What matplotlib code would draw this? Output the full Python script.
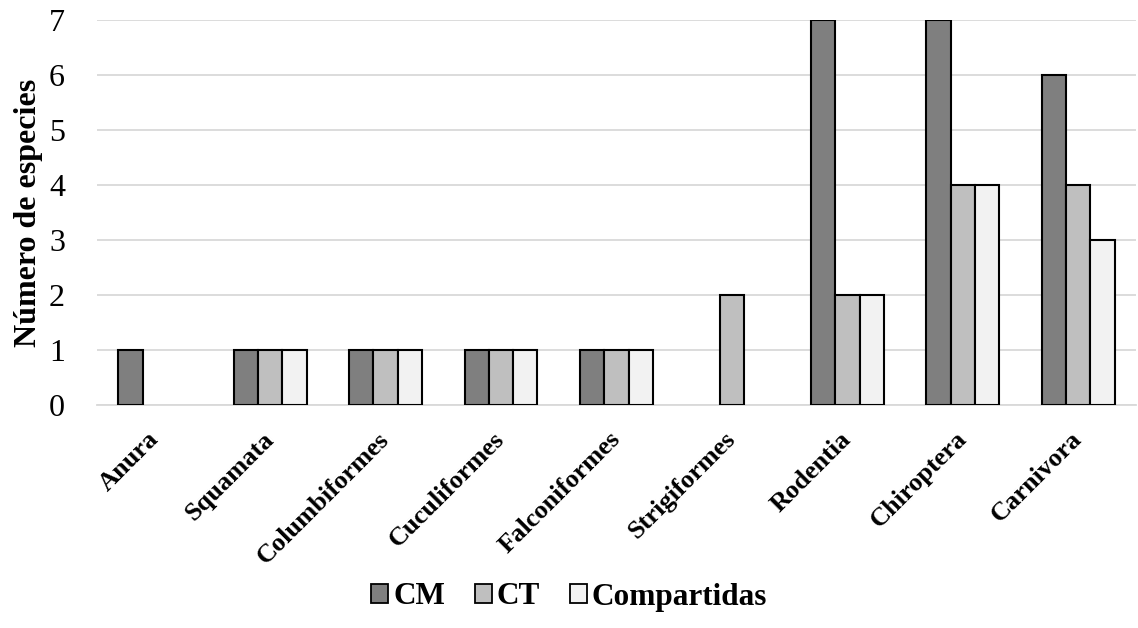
import matplotlib
matplotlib.use("Agg")
import matplotlib.pyplot as plt
from matplotlib.patches import Patch
import numpy as np

categories = ["Anura", "Squamata", "Columbiformes", "Cuculiformes", "Falconiformes",
              "Strigiformes", "Rodentia", "Chiroptera", "Carnivora"]
cm = [1, 1, 1, 1, 1, 0, 7, 7, 6]
ct = [0, 1, 1, 1, 1, 2, 2, 4, 4]
compartidas = [0, 1, 1, 1, 1, 0, 2, 4, 3]
series = [("CM", cm, "#7f7f7f"), ("CT", ct, "#bfbfbf"), ("Compartidas", compartidas, "#f2f2f2")]

plt.rcParams['font.family'] = ['Liberation Serif', 'DejaVu Serif']

fig = plt.figure(figsize=(11.38, 6.28), dpi=100)
ax = fig.add_axes([97/1138, 1 - 405/628, (1136-97)/1138, (405-20)/628])

x = np.arange(len(categories))
w = 0.21
handles = []
for i, (name, vals, col) in enumerate(series):
    vals = np.array(vals, dtype=float)
    pos = x + (i - 1) * w
    mask = vals > 0
    ax.bar(pos[mask], vals[mask], width=w, color=col, edgecolor="black", linewidth=1.5, zorder=3)
    handles.append(Patch(facecolor=col, edgecolor="black", linewidth=1.3, label=name))

ax.set_xlim(-0.5, len(categories) - 0.5)
ax.set_ylim(0, 7)
ax.set_yticks(range(8))
ax.yaxis.grid(True, color="#d9d9d9", linewidth=1.3, zorder=0)
ax.set_axisbelow(True)
for s in ["top", "right", "left"]:
    ax.spines[s].set_visible(False)
ax.spines["bottom"].set_color("#d9d9d9")
ax.spines["bottom"].set_linewidth(1.3)
ax.tick_params(axis="both", length=0)
ax.tick_params(axis="y", labelsize=23, pad=23)
ax.set_xticks(x)
ax.set_xticklabels(categories, rotation=45, ha="right", va="center", rotation_mode="anchor",
                   fontsize=19, fontweight="bold")
ax.tick_params(axis="x", pad=22)
ax.set_ylabel("Número de especies", fontsize=23, fontweight="bold", labelpad=4)

fig.legend(handles=handles, loc="center", bbox_to_anchor=(0.5, 1 - 597/628), ncol=3, frameon=False,
           prop={"size": 22.5, "weight": "bold"}, handlelength=0.55, handleheight=0.55,
           handletextpad=0.15, columnspacing=0.95, borderaxespad=0.0)

fig.savefig("out.png", dpi=100)
